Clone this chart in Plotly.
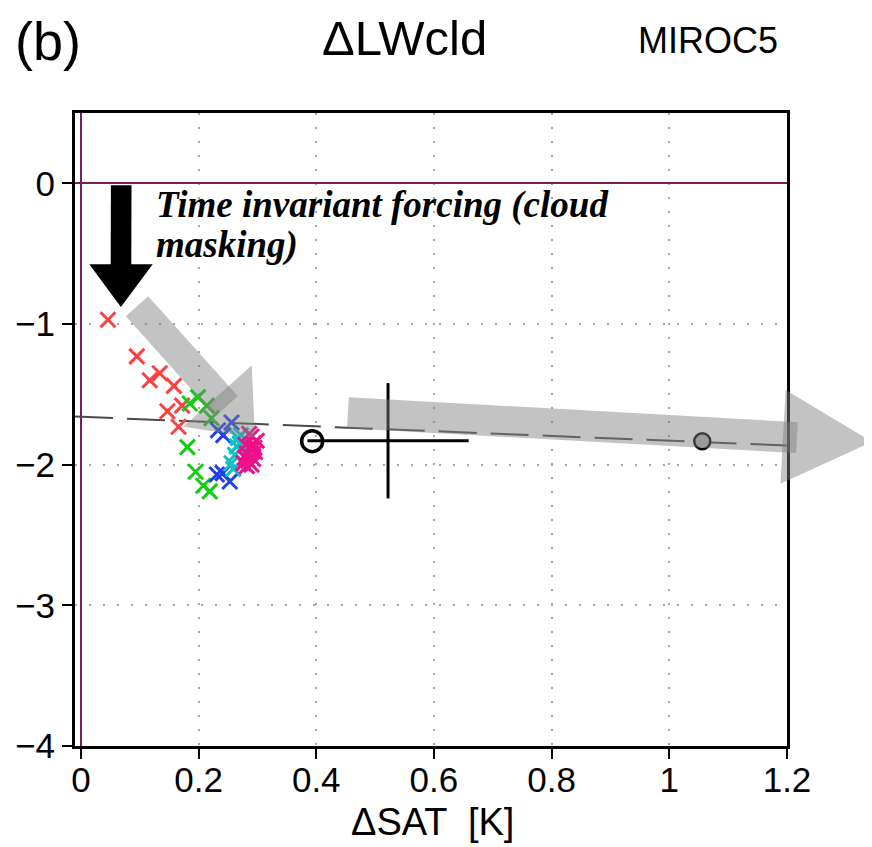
import math
import plotly.graph_objects as go

# ---------------- data ----------------
red_x = [0.046, 0.095, 0.117, 0.134, 0.158, 0.147, 0.172, 0.166]
red_y = [-0.97, -1.23, -1.40, -1.35, -1.44, -1.62, -1.58, -1.73]

green_x = [0.199, 0.185, 0.214, 0.222, 0.181, 0.195, 0.208, 0.219]
green_y = [-1.52, -1.565, -1.58, -1.67, -1.875, -2.05, -2.15, -2.19]

blue_x = [0.256, 0.233, 0.242, 0.231, 0.241, 0.253]
blue_y = [-1.70, -1.755, -1.79, -2.07, -2.06, -2.12]

cyan_x = [0.267, 0.265, 0.262, 0.256, 0.270, 0.259, 0.272]
cyan_y = [-1.81, -1.87, -1.93, -1.99, -1.85, -2.03, -1.79]

mag_x = [0.290, 0.293, 0.287, 0.282, 0.296, 0.284, 0.276, 0.293, 0.282, 0.299,
         0.279, 0.290, 0.286, 0.295, 0.280]
mag_y = [-1.80, -1.85, -1.885, -1.92, -1.91, -1.97, -1.99, -1.96, -2.01, -1.83,
         -1.95, -2.00, -1.78, -1.88, -1.86]

open_circle_x = [0.393]
open_circle_y = [-1.833]
eq_circle_x = [1.056]
eq_circle_y = [-1.833]

cross_x = [0.522]
cross_y = [-1.83]
cross_xerr = [0.137]
cross_yerr = [0.41]

reg_x = [-0.01, 1.2]
reg_y = [-1.658, -1.864]

x_ticks = [0, 0.2, 0.4, 0.6, 0.8, 1.0, 1.2]
x_ticklabels = ["0", "0.2", "0.4", "0.6", "0.8", "1", "1.2"]
y_ticks = [0, -1, -2, -3, -4]
y_ticklabels = ["0", "\u22121", "\u22122", "\u22123", "\u22124"]

# ---------------- layout geometry ----------------
# the default page has an 8px body margin; the figure is sized so that it
# fills the 872x847 window exactly from (8, 8)
OFF = 8
FIG_W, FIG_H = 872 - OFF, 847 - OFF
ML, MR, MT, MB = 75 - OFF, 85, 113 - OFF, 101
PW = FIG_W - ML - MR
PH = FIG_H - MT - MB
XR = [-0.01, 1.2]
YR = [-4.0, 0.5]

TICKFONT = "Liberation Sans Narrow, Arial Narrow, Liberation Sans, Arial, sans-serif"


def to_px(x, y):
    return ((x - XR[0]) / (XR[1] - XR[0]) * PW,
            (y - YR[0]) / (YR[1] - YR[0]) * PH)


def poly(points):
    return "M " + " L ".join(f"{px / PW:.5f},{py / PH:.5f}" for px, py in points) + " Z"


def arrow_paths(x0, y0, x1, y1, half_w, head_len, head_hw, overlap):
    ax, ay = to_px(x0, y0)
    bx, by = to_px(x1, y1)
    dx, dy = bx - ax, by - ay
    L = math.hypot(dx, dy)
    ux, uy = dx / L, dy / L
    nx, ny = -uy, ux
    base = L - head_len
    send = base + overlap
    shaft = [(ax + nx * half_w, ay + ny * half_w),
             (ax + ux * send + nx * half_w, ay + uy * send + ny * half_w),
             (ax + ux * send - nx * half_w, ay + uy * send - ny * half_w),
             (ax - nx * half_w, ay - ny * half_w)]
    cx, cy = ax + ux * base, ay + uy * base
    head = [(cx + nx * head_hw, cy + ny * head_hw), (bx, by),
            (cx - nx * head_hw, cy - ny * head_hw)]
    return poly(shaft), poly(head)


fig = go.Figure()

fig.add_trace(go.Scatter(x=reg_x, y=reg_y, mode="lines",
                         line=dict(color="#4a4a4a", width=2, dash="38px,14px"),
                         hoverinfo="skip"))

groups = [
    (red_x, red_y, "#ff4040"),
    (green_x, green_y, "#12cc12"),
    (blue_x, blue_y, "#2040ee"),
    (cyan_x, cyan_y, "#10c0c4"),
    (mag_x, mag_y, "#f0108a"),
]
for gx, gy, col in groups:
    fig.add_trace(go.Scatter(x=gx, y=gy, mode="markers",
                             marker=dict(symbol="x-thin", size=15, color=col,
                                         line=dict(color=col, width=3))))

fig.add_trace(go.Scatter(x=cross_x, y=cross_y, mode="markers",
                         marker=dict(size=1, color="rgba(0,0,0,0)"),
                         error_x=dict(type="data", array=cross_xerr, color="black",
                                      thickness=3, width=0),
                         error_y=dict(type="data", array=cross_yerr, color="black",
                                      thickness=3, width=0)))

fig.add_trace(go.Scatter(x=open_circle_x, y=open_circle_y, mode="markers",
                         marker=dict(symbol="circle-open", size=21, color="black",
                                     line=dict(color="black", width=3.5))))
fig.add_trace(go.Scatter(x=eq_circle_x, y=eq_circle_y, mode="markers",
                         marker=dict(symbol="circle", size=16, color="#b4b4b4",
                                     line=dict(color="black", width=2.5))))

shapes = []
grey = "rgba(128,128,128,0.47)"
s1, h1 = arrow_paths(0.4538, -1.6306, 1.3443, -1.8373, 15.5, 89, 47, 14)
s2, h2 = arrow_paths(0.0954, -0.8739, 0.2958, -1.8082, 15, 56, 46, 13.6)
for p in (s1, h1, s2, h2):
    shapes.append(dict(type="path", path=p, xref="paper", yref="paper",
                       fillcolor=grey, line=dict(width=0), layer="above"))
s3, h3 = arrow_paths(0.0685, -0.0142, 0.068, -0.879, 10.3, 42.7, 31.7, 1)
for p in (s3, h3):
    shapes.append(dict(type="path", path=p, xref="paper", yref="paper",
                       fillcolor="black", line=dict(width=0), layer="above"))


def pxx(px):
    return (px - OFF - ML) / PW


def pxy(py):
    return (FIG_H - MB - (py - OFF)) / PH


SERIF = "Liberation Serif, Times New Roman, serif"
annotations = [
    dict(text="<b><i>Time invariant forcing (cloud</i></b>", x=pxx(154), y=pxy(205),
         xref="paper", yref="paper", xanchor="left", yanchor="middle", showarrow=False,
         font=dict(family=SERIF, size=37, color="black")),
    dict(text="<b><i>masking)</i></b>", x=pxx(154), y=pxy(245),
         xref="paper", yref="paper", xanchor="left", yanchor="middle", showarrow=False,
         font=dict(family=SERIF, size=37, color="black")),
    dict(text="(b)", x=pxx(48), y=pxy(41), xref="paper", yref="paper",
         xanchor="center", yanchor="middle", showarrow=False,
         font=dict(family=TICKFONT, size=54, color="black")),
    dict(text="\u0394LWcld", x=pxx(404), y=pxy(38), xref="paper", yref="paper",
         xanchor="center", yanchor="middle", showarrow=False,
         font=dict(family=TICKFONT, size=49, color="black")),
    dict(text="MIROC5", x=pxx(708), y=pxy(41), xref="paper", yref="paper",
         xanchor="center", yanchor="middle", showarrow=False,
         font=dict(family="Liberation Sans, Arial, sans-serif", size=36, color="black")),
    dict(text="\u0394SAT  [K]", x=pxx(432), y=pxy(822), xref="paper", yref="paper",
         xanchor="center", yanchor="middle", showarrow=False,
         font=dict(family=TICKFONT, size=38, color="black")),
]

fig.update_layout(
    width=FIG_W, height=FIG_H,
    margin=dict(l=ML, r=MR, t=MT, b=MB, pad=0),
    paper_bgcolor="white", plot_bgcolor="white",
    showlegend=False,
    shapes=shapes,
    annotations=annotations,
    xaxis=dict(range=XR, tickvals=x_ticks, ticktext=x_ticklabels, automargin=False,
               ticks="outside", ticklen=10, tickwidth=2, tickcolor="black",
               ticklabelstandoff=-9,
               showline=True, linecolor="black", linewidth=3, mirror=True,
               showgrid=True, gridcolor="#a8a8a8", gridwidth=2, griddash="2px,12px",
               zeroline=True, zerolinecolor="#7a2050", zerolinewidth=1.5,
               tickfont=dict(family=TICKFONT, size=35, color="black")),
    yaxis=dict(range=YR, tickvals=y_ticks, ticktext=y_ticklabels, automargin=False,
               ticks="outside", ticklen=10, tickwidth=2, tickcolor="black",
               showline=True, linecolor="black", linewidth=3, mirror=True,
               showgrid=True, gridcolor="#a8a8a8", gridwidth=2, griddash="2px,12px",
               zeroline=True, zerolinecolor="#7a2050", zerolinewidth=1.5,
               tickfont=dict(family=TICKFONT, size=35, color="black")),
)

fig.write_html("out.html")
